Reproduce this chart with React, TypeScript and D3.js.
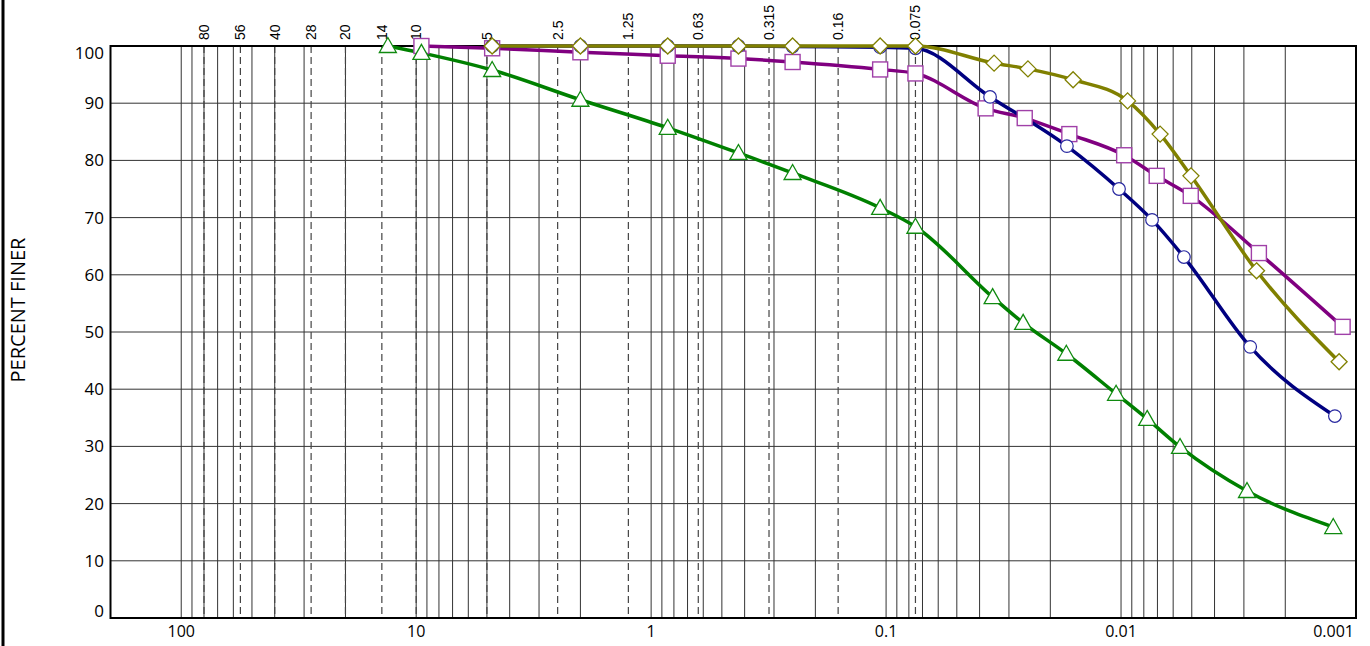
import React from "react";
import * as d3 from "d3";

const W = 1370;
const H = 646;

// x-axis labels (bottom)
const bottomTicks = [100, 10, 1, 0.1, 0.01, 0.001];
const bottomTickLabels = ["100", "10", "1", "0.1", "0.01", "0.001"];
// y-axis ticks
const yTicks = [0, 10, 20, 30, 40, 50, 60, 70, 80, 90, 100];
// sieve sizes (dashed lines + top labels)
const sieveSizes = [80, 56, 40, 28, 20, 14, 10, 5, 2.5, 1.25, 0.63, 0.315, 0.16, 0.075];
const sieveLabels = ["80", "56", "40", "28", "20", "14", "10", "5", "2.5", "1.25", "0.63", "0.315", "0.16", "0.075"];

// series data: grain size (mm) and percent finer
const navySizes = [4.75, 2.0, 0.85, 0.425, 0.25, 0.106, 0.075, 0.0361, 0.017, 0.0102, 0.00738, 0.0054, 0.00282, 0.00123];
const navyPct = [100, 100, 100, 100, 99.9, 99.8, 99.6, 91.1, 82.5, 75.0, 69.6, 63.1, 47.4, 35.3];

const purpleSizes = [9.5, 4.75, 2.0, 0.85, 0.425, 0.25, 0.106, 0.075, 0.0377, 0.0257, 0.0166, 0.0097, 0.00705, 0.00505, 0.00259, 0.00114];
const purplePct = [100, 99.6, 98.9, 98.3, 97.8, 97.2, 95.9, 95.2, 89.1, 87.4, 84.6, 80.9, 77.3, 73.8, 63.8, 50.9];

const oliveSizes = [4.75, 2.0, 0.85, 0.425, 0.25, 0.106, 0.075, 0.0347, 0.0249, 0.016, 0.00938, 0.00682, 0.00504, 0.00265, 0.00118];
const olivePct = [100, 100, 100, 100, 100, 100, 100, 97.0, 96.0, 94.1, 90.4, 84.6, 77.3, 60.7, 44.8];

const greenSizes = [13.2, 9.5, 4.75, 2.0, 0.85, 0.425, 0.25, 0.106, 0.075, 0.0352, 0.0261, 0.0171, 0.0105, 0.00774, 0.00561, 0.00291, 0.00125];
const greenPct = [100, 98.8, 95.8, 90.6, 85.7, 81.3, 77.8, 71.7, 68.4, 56.1, 51.6, 46.2, 39.2, 34.8, 29.9, 22.2, 15.9];

const left = 110.5;
const right = 1356;
const top = 46;
const bottom = 618;

const x = d3.scaleLog().domain([200, 0.001]).range([left, right]);
const y = d3.scaleLinear().domain([0, 100]).range([bottom, top]);

// minor gridline values 1..9 x 10^e from 100 down to 0.001
const gridVals: number[] = [];
for (let e = 2; e >= -3; e--) {
  for (let k = 1; k <= 9; k++) {
    const v = k * Math.pow(10, e);
    if (v <= 100.0001 && v >= 0.00099) gridVals.push(v);
  }
}

type Series = { sizes: number[]; pct: number[]; color: string; stroke: string; marker: string };
const series: Series[] = [
  { sizes: purpleSizes, pct: purplePct, color: "#800080", stroke: "#a040a8", marker: "square" },
  { sizes: navySizes, pct: navyPct, color: "#000080", stroke: "#2828a0", marker: "circle" },
  { sizes: oliveSizes, pct: olivePct, color: "#808000", stroke: "#808000", marker: "diamond" },
  { sizes: greenSizes, pct: greenPct, color: "#008000", stroke: "#108a10", marker: "triangle" },
];

function Marker({ kind, cx, cy, stroke }: { kind: string; cx: number; cy: number; stroke: string }) {
  if (kind === "circle") return <circle cx={cx} cy={cy} r={6.3} fill="#fff" stroke={stroke} strokeWidth={1.2} />;
  if (kind === "square") return <rect x={cx - 7.5} y={cy - 7.5} width={15} height={15} fill="#fff" stroke={stroke} strokeWidth={1.4} />;
  if (kind === "diamond")
    return <path d={`M${cx},${cy - 8}L${cx + 8},${cy}L${cx},${cy + 8}L${cx - 8},${cy}Z`} fill="#fff" stroke={stroke} strokeWidth={1.3} />;
  return <path d={`M${cx},${cy - 8.5}L${cx + 8.5},${cy + 6.5}L${cx - 8.5},${cy + 6.5}Z`} fill="#fff" stroke={stroke} strokeWidth={1.3} />;
}

export default function App() {
  const line = d3
    .line<[number, number]>()
    .x((d) => d[0])
    .y((d) => d[1])
    .curve(d3.curveMonotoneX);

  const numFont = "'Open Sans', 'DejaVu Sans', sans-serif";
  return (
    <div>
      <style>{`body{margin:0;}`}</style>
      <svg width={W} height={H} style={{ display: "block", background: "#fff" }}>
        <rect x={0} y={0} width={W} height={H} fill="#fff" />
        {/* outer left frame line */}
        <line x1={3} x2={3} y1={0} y2={H} stroke="#000" strokeWidth={3} />

        {/* horizontal grid */}
        {yTicks.filter((t) => t > 0 && t < 100).map((t) => (
          <line key={"h" + t} x1={left} x2={right} y1={y(t)} y2={y(t)} stroke="#333" strokeWidth={1} />
        ))}
        {/* vertical minor grid */}
        {gridVals.map((v, i) => (
          <line key={"v" + i} x1={x(v)} x2={x(v)} y1={top} y2={bottom} stroke="#333" strokeWidth={1} />
        ))}
        {/* sieve dashed lines */}
        {sieveSizes.map((v, i) => (
          <line key={"s" + i} x1={x(v)} x2={x(v)} y1={top} y2={bottom} stroke="#444" strokeWidth={1.2} strokeDasharray="7,4" />
        ))}
        {/* plot border */}
        <rect x={left} y={top} width={right - left} height={bottom - top} fill="none" stroke="#000" strokeWidth={2} />

        {/* top sieve labels */}
        {sieveSizes.map((v, i) => (
          <text
            key={"sl" + i}
            transform={`translate(${x(v) + 5},40) rotate(-90)`}
            fontFamily="'Liberation Sans', Arial, sans-serif"
            fontSize={14}
            fill="#000"
          >
            {sieveLabels[i]}
          </text>
        ))}

        {/* y labels */}
        {yTicks.map((t) => {
          let yy = y(t) + 6;
          if (t === 100) yy = y(t) + 13;
          if (t === 0) yy = y(t) - 1;
          return (
            <text key={"yl" + t} x={104} y={yy} textAnchor="end" fontFamily={numFont} fontSize={17} fill="#000">
              {t}
            </text>
          );
        })}
        {/* bottom labels */}
        {bottomTicks.map((v, i) => {
          const last = i === bottomTicks.length - 1;
          return (
            <text
              key={"xl" + i}
              x={last ? x(v) - 2 : x(v)}
              y={637}
              textAnchor={last ? "end" : "middle"}
              fontFamily={numFont}
              fontSize={16}
              fill="#000"
            >
              {bottomTickLabels[i]}
            </text>
          );
        })}

        {/* y axis title */}
        <text
          transform={`translate(25,310) rotate(-90)`}
          textAnchor="middle"
          fontFamily="'Open Sans', sans-serif"
          fontSize={20}
          fill="#000"
        >
          PERCENT FINER
        </text>

        {/* lines */}
        {series.map((s, si) => {
          const pts: [number, number][] = s.sizes.map((v, i) => [x(v), y(s.pct[i])] as [number, number]).sort((a, b) => a[0] - b[0]);
          return <path key={"l" + si} d={line(pts) || ""} fill="none" stroke={s.color} strokeWidth={3.5} strokeLinejoin="round" />;
        })}
        {/* markers */}
        {series.map((s, si) => (
          <g key={"m" + si}>
            {s.sizes.map((v, i) => (
              <Marker key={i} kind={s.marker} cx={x(v)} cy={y(s.pct[i])} stroke={s.stroke} />
            ))}
          </g>
        ))}
      </svg>
    </div>
  );
}
